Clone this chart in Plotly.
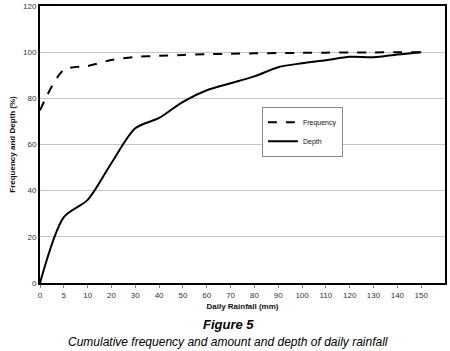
import plotly.graph_objects as go

categories = ["0", "5", "10", "20", "30", "40", "50", "60", "70", "80", "90",
              "100", "110", "120", "130", "140", "150"]
frequency = [74.8, 92.3, 94.0, 96.6, 97.9, 98.4, 98.8, 99.1, 99.3, 99.5, 99.6,
             99.7, 99.8, 99.9, 99.9, 100.0, 100.0]
depth = [0.0, 28.5, 36.0, 52.0, 67.0, 71.5, 78.5, 83.5, 86.5, 89.5, 93.5,
         95.2, 96.5, 98.0, 97.8, 99.0, 100.0]
y_ticks = [0, 20, 40, 60, 80, 100, 120]

FONT = "Liberation Sans, Arial, sans-serif"

fig = go.Figure()
fig.add_trace(go.Scatter(x=categories, y=frequency, name="Frequency", mode="lines",
                         line=dict(color="black", width=2, dash="dash", shape="spline",
                                   smoothing=0.8)))
fig.add_trace(go.Scatter(x=categories, y=depth, name="Depth", mode="lines",
                         line=dict(color="black", width=2, shape="spline", smoothing=0.8)))

fig.update_layout(
    width=450, height=351,
    margin=dict(l=40, r=5, t=6, b=68),
    paper_bgcolor="white", plot_bgcolor="white",
    font=dict(family=FONT, size=8, color="#111"),
    showlegend=True,
    legend=dict(x=0.548, y=0.636, xanchor="left", yanchor="top",
                bgcolor="white", bordercolor="#888", borderwidth=1,
                font=dict(size=7, color="#111"), itemwidth=30,
                tracegroupgap=0),
    xaxis=dict(type="category", categoryorder="array", categoryarray=categories,
               range=[0, 17], showgrid=False, showline=True, linecolor="black",
               linewidth=2, mirror=True, ticks="outside", ticklen=3,
               tickcolor="#888", tickfont=dict(size=8, color="#333"),
               title=dict(text="<b>Daily Rainfall (mm)</b>", font=dict(size=8, color="#111"),
                          standoff=5),
               zeroline=False, automargin=False),
    yaxis=dict(range=[0, 120], tickvals=y_ticks, showgrid=True, gridcolor="#c4c4c4",
               gridwidth=1, showline=True, linecolor="black", linewidth=2, mirror=True,
               ticks="", tickfont=dict(size=8, color="#333"),
               title=dict(text="<b>Frequency and Depth (%)</b>",
                          font=dict(size=8, color="#111"), standoff=6),
               zeroline=False, automargin=False),
)

fig.add_annotation(text="<b><i>Figure 5</i></b>", xref="paper", yref="paper",
                   x=(228 - 40) / 405, y=-(325 - 283.3) / 277.3, xanchor="center",
                   yanchor="middle", showarrow=False,
                   font=dict(family=FONT, size=13, color="black"))
fig.add_annotation(text="<i>Cumulative frequency and amount and depth of daily rainfall</i>",
                   xref="paper", yref="paper",
                   x=(228 - 40) / 405, y=-(342 - 283.3) / 277.3, xanchor="center",
                   yanchor="middle", showarrow=False,
                   font=dict(family=FONT, size=12, color="black"))

fig.write_html("out.html", config={"displayModeBar": False},
               post_script="document.body.style.margin='0';document.body.style.padding='0';")
